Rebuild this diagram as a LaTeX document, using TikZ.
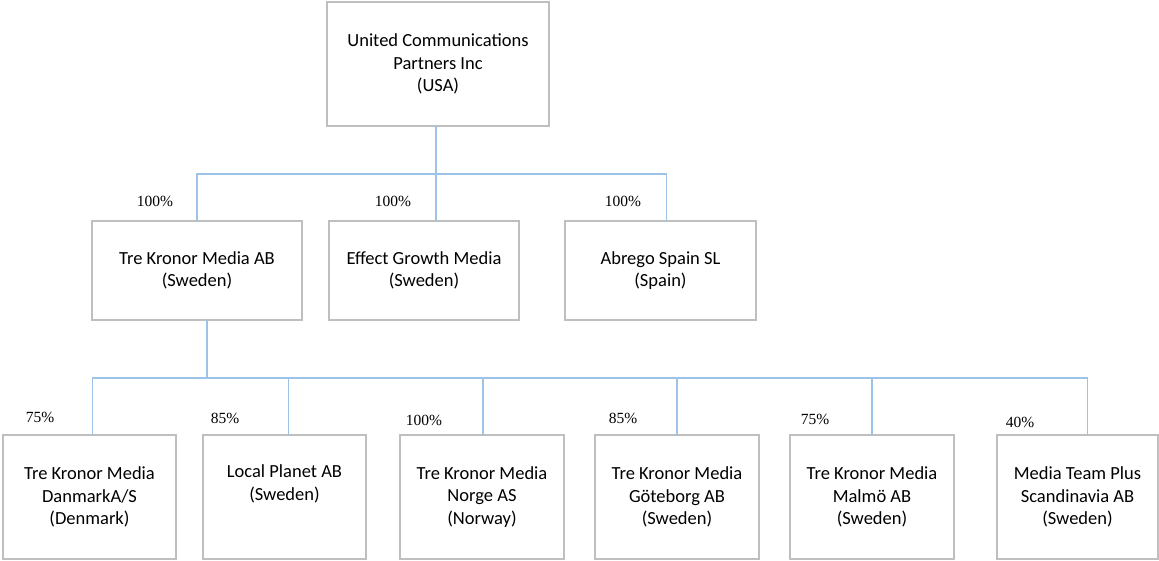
\documentclass[tikz,border=0pt]{standalone}
\usepackage{fontspec}
\setmainfont{Carlito}
\newfontfamily\sharefont{Liberation Serif}
\usetikzlibrary{positioning, calc}
\definecolor{boxgray}{RGB}{191,191,191}
\definecolor{linkblue}{RGB}{157,195,230}

\begin{document}
\begin{tikzpicture}[x=1pt, y=1pt,
    company_node/.style={rectangle, draw=boxgray, line width=1.8pt, outer sep=0pt, align=center, inner sep=2pt, font=\fontsize{18.5}{22.5}\selectfont},
    top_node/.style={company_node, minimum width=222pt, minimum height=124pt},
    mid_node/.style={company_node, minimum height=99pt},
    low_node/.style={company_node, minimum width=164pt, minimum height=124pt},
    share_label/.style={inner sep=0pt, font=\sharefont\fontsize{15.5}{18}\selectfont},
    owner_link/.style={draw=linkblue, line width=1.6pt}]

    \useasboundingbox (0,0) rectangle (1159,-561);

    % Parent company
    \node[top_node] (ucp) at (438,-64) {United Communications\\Partners Inc\\(USA)};

    % Level 2
    \node[mid_node, minimum width=210pt] (tk) at (197,-270.5) {Tre Kronor Media AB\\(Sweden)};
    \node[mid_node, minimum width=190pt, right=27pt of tk] (eg) {Effect Growth Media\\(Sweden)};
    \node[mid_node, minimum width=191pt, right=46pt of eg] (ab) {Abrego Spain SL\\(Spain)};

    % Links to level 2
    \coordinate[below=48pt of ucp.south, xshift=-2pt] (bus_top);
    \draw[owner_link] ([xshift=-2pt]ucp.south) -- (bus_top);
    \draw[owner_link] (bus_top) -| (tk.north);
    \draw[owner_link] (bus_top) -| ([xshift=6pt]ab.north);
    \draw[owner_link] (bus_top) -- (bus_top |- eg.north);

    \node[share_label] (p_tk) at ([shift={(63pt,20pt)}]tk.north west) {100\%};
    \node[share_label] (p_eg) at ([shift={(64pt,20pt)}]eg.north west) {100\%};
    \node[share_label] (p_ab) at ([shift={(58pt,20pt)}]ab.north west) {100\%};

    % Level 3
    \node[low_node, minimum width=173pt] (dk) at (89.5,-497) {Tre Kronor Media\\DanmarkA/S\\(Denmark)};
    \node[low_node, minimum width=163pt, right=27pt of dk] (lp) {Local Planet AB\\(Sweden)\\\strut};
    \node[low_node, right=34pt of lp] (no) {Tre Kronor Media\\Norge AS\\(Norway)};
    \node[low_node, right=31pt of no] (gb) {Tre Kronor Media\\Göteborg AB\\(Sweden)};
    \node[low_node, right=31pt of gb] (mm) {Tre Kronor Media\\Malmö AB\\(Sweden)};
    \node[low_node, minimum width=161pt, right=43pt of mm] (mtp) {Media Team Plus\\Scandinavia AB\\(Sweden)};

    % Links to level 3
    \coordinate[below=58pt of tk.south, xshift=10pt] (bus_low);
    \draw[owner_link] ([xshift=10pt]tk.south) -- (bus_low);
    \draw[owner_link] (bus_low) -| ([xshift=3pt]dk.north);
    \draw[owner_link] (bus_low) -| ([xshift=4pt]lp.north);
    \draw[owner_link] (bus_low) -| ([xshift=1pt]no.north);
    \draw[owner_link] (bus_low) -| (gb.north);
    \draw[owner_link] (bus_low) -| (mm.north);
    \draw[owner_link] (bus_low) -| ([xshift=10pt]mtp.north);

    \node[share_label] (p_dk) at ([shift={(37pt,18pt)}]dk.north west) {75\%};
    \node[share_label] (p_lp) at ([shift={(22pt,17pt)}]lp.north west) {85\%};
    \node[share_label] (p_no) at ([shift={(24pt,15pt)}]no.north west) {100\%};
    \node[share_label] (p_gb) at ([shift={(28pt,17pt)}]gb.north west) {85\%};
    \node[share_label] (p_mm) at ([shift={(25pt,15.5pt)}]mm.north west) {75\%};
    \node[share_label] (p_mtp) at ([shift={(23pt,13pt)}]mtp.north west) {40\%};

\end{tikzpicture}
\end{document}
